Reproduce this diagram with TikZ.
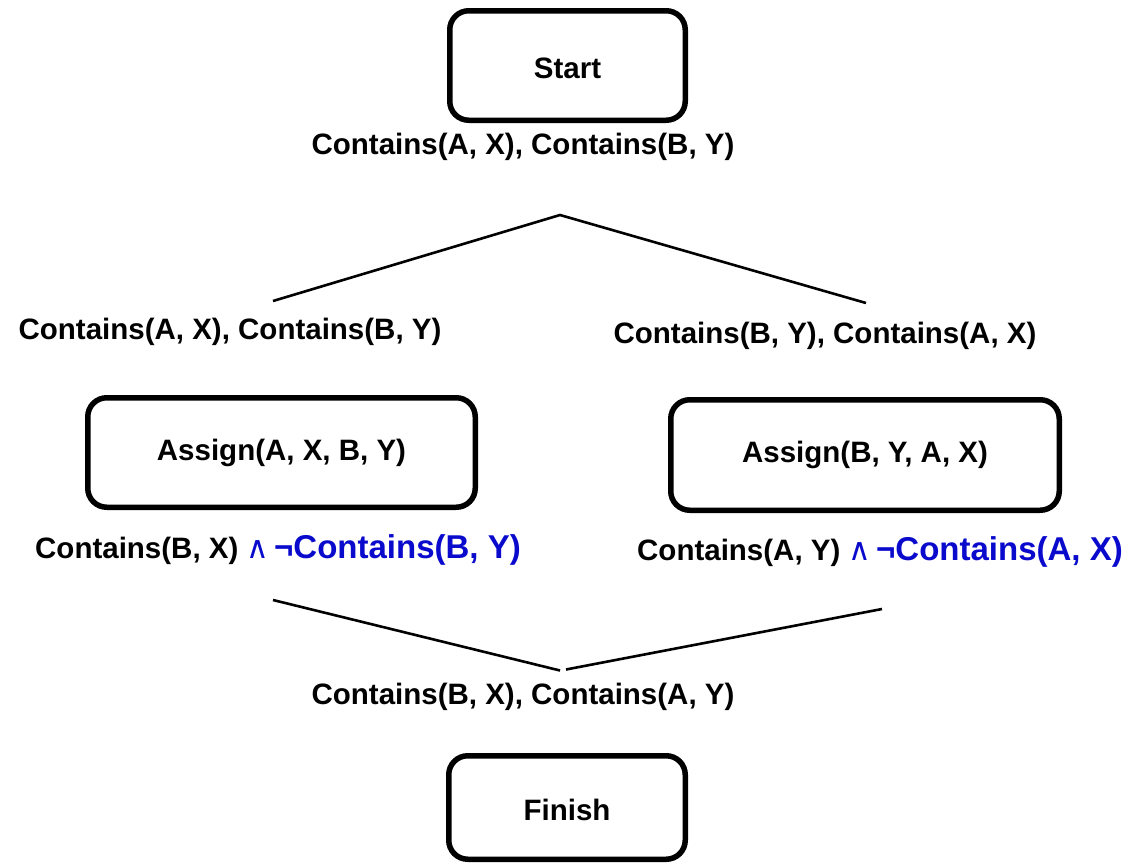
\documentclass[tikz,border=0pt]{standalone}
\usepackage{fontspec}
\setmainfont{Liberation Sans}
\newfontfamily\symfont{DejaVu Sans}
\definecolor{effblue}{RGB}{10,10,205}
\begin{document}
\begin{tikzpicture}[x=1pt,y=-1pt,
  stepbox/.style={draw, line width=5.5pt, rounded corners=19pt, inner sep=0pt,
    font=\fontsize{29.5}{34}\selectfont\bfseries},
  cond/.style={inner sep=0pt, font=\fontsize{29.5}{34}\selectfont\bfseries},
  link/.style={line width=2.6pt}]
\useasboundingbox (0,0) rectangle (1125,863);

% actions
\node[stepbox, minimum width=235.5pt, minimum height=109.5pt] (start) at (567.5,65.5) {};
\node[font=\fontsize{29.5}{34}\selectfont\bfseries] at ([yshift=-2.5pt]start.center) {Start};
\node[stepbox, minimum width=387.5pt, minimum height=109.5pt] (asgL) at (281.5,452.5) {Assign(A, X, B, Y)};
\node[stepbox, minimum width=388.5pt, minimum height=110.5pt] (asgR) at (865,455) {Assign(B, Y, A, X)};
\node[stepbox, minimum width=236.5pt, minimum height=103.5pt] (finish) at (567,807.5) {};
\node[font=\fontsize{29.5}{34}\selectfont\bfseries] at ([yshift=-2.5pt]finish.center) {Finish};

% conditions
\newcommand{\effpart}[1]{\textcolor{effblue}{{\symfont\fontsize{31}{34}\selectfont\mdseries ∧}\,\fontsize{33}{38}\selectfont ¬#1}}
\node[cond] (initc) at (523,147) {Contains(A, X), Contains(B, Y)};
\node[cond] (preL) at (230,332) {Contains(A, X), Contains(B, Y)};
\node[cond] (preR) at (825,336) {Contains(B, Y), Contains(A, X)};
\node[cond] (effL) at (278,550) {Contains(B, X) \effpart{Contains(B, Y)}};
\node[cond] (effR) at (880,552) {Contains(A, Y) \effpart{Contains(A, X)}};
\node[cond] (goal) at (523,697) {Contains(B, X), Contains(A, Y)};

% ordering links
\coordinate (tapex) at (560,215);
\coordinate (tleft) at (273,301);
\coordinate (tright) at (866,303);
\draw[link] (tleft) -- (tapex) -- (tright);

\coordinate (bleft) at (273,600);
\coordinate (bljoin) at (560,670.5);
\coordinate (brjoin) at (566,669.5);
\coordinate (bright) at (882,609);
\draw[link] (bleft) -- (bljoin);
\draw[link] (brjoin) -- (bright);
\end{tikzpicture}
\end{document}
